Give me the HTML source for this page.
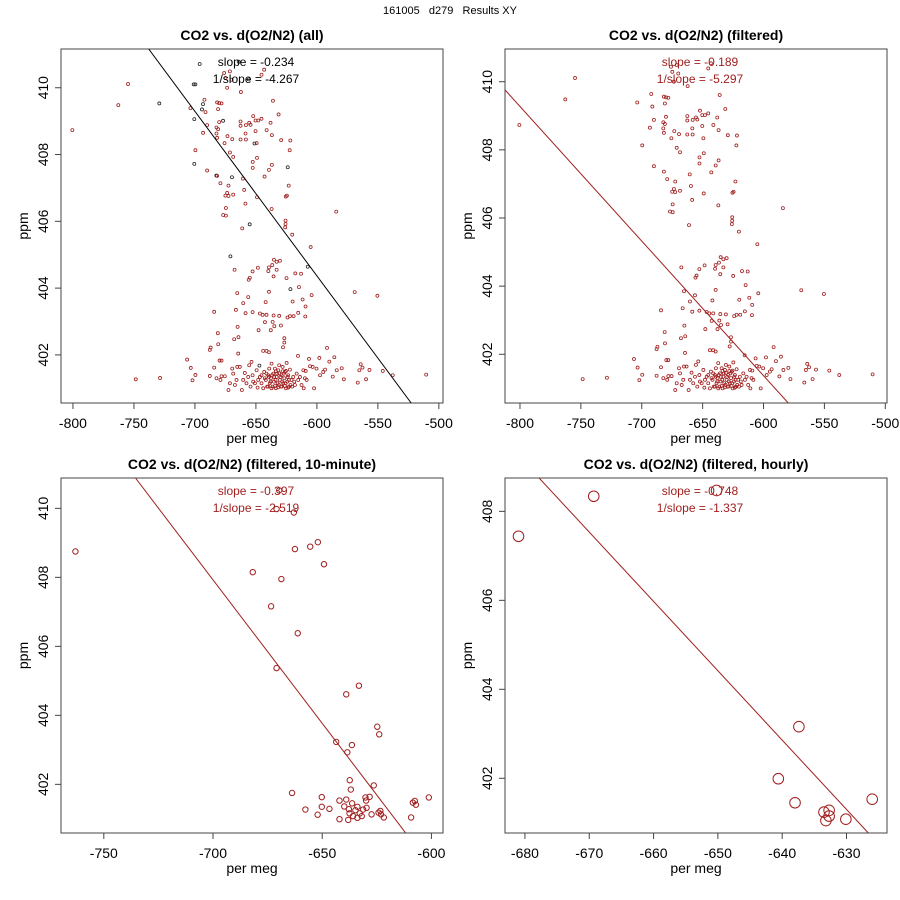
<!DOCTYPE html>
<html><head><meta charset="utf-8"><style>
body{margin:0;background:#fff}
svg{display:block;font-family:"Liberation Sans",sans-serif}
</style></head><body>
<svg id="chart" width="900" height="900" viewBox="0 0 900 900" xmlns="http://www.w3.org/2000/svg">
<rect width="900" height="900" fill="#fff"/>
<text x="450" y="14" font-size="11" text-anchor="middle" style="white-space:pre">161005   d279   Results XY</text>
</svg>
<script>
// ---- data ----
const filtX=[-800.5,-762.8,-754.8,-703.7,-692.2,-691.3,-690.0,-693.3,-699.6,-690.0,-681.8,-680.1,-678.2,-681.0,-680.1,-682.3,-681.0,-682.3,-681.8,-675.7,-673.3,-669.4,-671.3,-668.6,-681.8,-679.1,-672.5,-673.6,-675.0,-668.6,-672.5,-674.6,-676.8,-674.6,-676.0,-674.9,-671.3,-670.0,-673.6,-662.3,-645.4,-643.2,-636.0,-631.4,-662.6,-662.6,-658.2,-655.5,-654.4,-652.2,-650.3,-648.1,-645.4,-650.3,-658.5,-662.6,-658.2,-649.4,-641.2,-636.9,-638.0,-629.3,-621.8,-622.3,-649.1,-652.6,-652.6,-660.6,-639.3,-636.9,-642.9,-659.6,-623.1,-624.6,-625.5,-649.1,-658.6,-637.1,-625.7,-625.7,-626.0,-661.2,-620.2,-605.1,-584.1,
-667.5,-648.4,-652.7,-655.0,-655.9,-635.2,-633.0,-630.3,-636.6,-639.3,-639.8,-633.0,-635.5,-624.9,-617.7,-613.0,-614.7,-604.3,-569.0,-550.4,-665.3,-656.3,-660.4,-666.4,-658.5,-652.7,-646.7,-644.5,-641.3,-639.3,-642.0,-635.5,-630.9,-624.1,-622.1,-619.1,-615.3,-609.5,-611.7,-609.3,-619.9,-684.2,-665.0,-642.6,-636.3,-634.9,-629.5,-637.8,-647.8,-681.2,-667.8,-664.3,-680.9,-687.1,-687.8,-626.7,-626.7,-627.8,-591.7,-644.0,-641.3,-639.3,-664.5,-615.5,-606.5,-598.0,-585.7,-589.8,-706.4,-679.8,-678.2,
-748.5,-728.6,-703.4,-702.0,-699.6,-510.4,-537.8,-546.0,-556.9,-559.7,-566.5,-564.1,-562.6,-565.2,-577.9,-579.6,-583.7,-587.0,-593.3,-597.4,-602.3,-605.6,-609.2,-610.8,-687.8,-684.2,-682.3,-678.2,-679.1,-675.5,-672.5,-671.3,-669.4,-668.6,-665.3,-663.2,-661.5,-660.4,-659.1,-655.5,-653.6,-654.4,-652.7,-652.2,-649.4,-648.6,-646.7,-645.4,-644.0,-643.2,-641.9,-640.8,-639.9,-639.1,-638.6,-637.7,-637.2,-636.3,-635.8,-635.2,-634.4,-633.6,-633.0,-632.2,-631.7,-630.9,-630.3,-629.5,-628.9,-628.1,-627.6,-626.7,-626.2,-625.4,-624.8,-624.3,-623.5,-622.8,-622.1,-620.8,-619.4,-618.0,-616.6,-615.3,-613.9,-612.6,-611.1,-609.8,-608.4,-603.5,-600.3,-594.8,
-639.3,-638.0,-636.7,-635.0,-633.9,-632.6,-631.2,-629.8,-628.5,-627.1,-625.7,-624.0,-622.9,-621.6,-620.2,-618.6,-639.9,-637.2,-634.4,-631.7,-628.9,-626.2,-623.5,-633.6,-630.9,-628.1,-625.4,-641.3,-642.7,-645.4,-648.1,-650.8,-656.3,-657.7,-665.9,-667.2];
const filtY=[408.73,409.48,410.11,409.39,409.64,409.27,408.88,408.65,408.13,407.52,409.56,409.54,409.53,409.36,408.97,408.81,408.76,408.63,408.50,408.34,408.55,408.46,408.06,407.93,407.36,407.14,407.07,406.85,406.77,406.80,406.76,406.40,406.19,406.17,410.44,410.29,410.49,410.24,410.0,409.87,410.39,410.54,409.61,409.20,408.99,408.86,408.88,408.95,408.89,409.15,409.02,409.02,409.07,408.70,408.63,408.45,408.45,408.34,408.73,408.58,408.95,408.43,408.42,408.13,407.90,407.78,407.60,407.28,407.54,407.69,407.34,406.94,407.07,406.77,406.74,406.72,406.53,406.37,406.02,405.92,405.82,405.79,405.60,405.23,406.29,
404.55,404.61,404.50,404.31,404.25,404.85,404.79,404.82,404.69,404.62,404.51,404.55,404.35,404.30,404.44,404.43,404.03,403.79,403.88,403.77,403.85,403.73,403.55,403.35,403.25,403.28,403.24,403.20,403.20,403.89,403.58,403.18,403.17,403.12,403.16,403.16,403.26,403.15,403.66,403.45,403.60,403.29,402.84,402.98,402.99,402.86,402.88,402.74,402.74,402.65,402.47,402.53,402.32,402.22,402.15,402.50,402.37,402.23,402.21,402.12,402.12,402.08,402.04,401.97,401.88,401.91,401.93,401.80,401.86,401.83,401.83,
401.27,401.31,401.61,401.24,401.40,401.41,401.39,401.52,401.55,401.27,401.17,401.72,401.62,401.54,401.27,401.60,401.54,401.35,401.56,401.39,401.00,401.66,401.52,401.00,401.37,401.62,401.30,401.36,401.25,401.36,400.95,401.15,401.59,401.44,401.64,401.64,400.95,401.25,401.46,401.69,401.79,401.05,401.39,401.20,401.54,401.02,401.34,401.15,401.00,401.49,401.25,401.05,401.39,401.59,401.15,401.30,401.74,401.05,401.44,401.20,401.59,401.00,401.34,401.15,401.54,401.69,401.25,401.05,401.39,401.64,401.15,401.30,401.49,401.00,401.76,401.20,401.39,401.05,401.56,401.25,401.34,401.10,401.44,401.25,401.34,401.10,401.54,401.30,401.25,401.64,401.59,401.49,
401.34,401.20,401.39,401.34,401.25,401.44,401.10,401.34,401.20,401.44,401.15,401.34,401.25,401.10,401.05,401.20,401.05,401.00,401.07,401.03,401.05,401.07,401.02,401.51,401.45,401.51,401.52,401.44,401.30,401.39,401.25,401.15,401.34,401.15,401.25,401.10];
const rejX=[-696.1,-701.0,-699.6,-729.2,-694.2,-693.4,-700.5,-676.9,-651.2,-700.5,-669.6,-682.4,-623.9,-655.1,-670.9,-607.5,-621.7,-647.1,-655.9,-664.1];
const rejY=[410.71,410.10,410.10,409.53,409.35,409.51,409.06,409.01,408.33,407.72,407.32,407.37,407.62,405.91,404.95,404.64,403.97,401.68,410.25,410.78];
const tenX=[-763.0,-681.8,-668.7,-673.4,-662.5,-655.5,-652.0,-649.2,-663.0,-670.9,-669.7,-661.2,-670.9,-639.0,-633.2,-643.6,-636.4,-638.5,-624.8,-623.9,-626.4,-663.8,-650.2,-637.4,-636.9,-642.1,-639.0,-657.7,-652.1,-650.2,-646.7,-642.1,-639.9,-637.8,-637.5,-638.1,-636.3,-635.9,-633.9,-633.9,-631.9,-631.3,-630.2,-629.9,-629.7,-628.3,-627.4,-624.2,-623.4,-623.1,-621.8,-609.3,-608.5,-607.6,-607.1,-601.2,-634.8,-632.8];
const tenY=[408.75,408.15,407.95,407.16,408.82,408.89,409.02,408.38,409.88,409.98,410.52,406.38,405.37,404.61,404.86,403.23,403.14,402.93,403.67,403.45,401.97,401.75,401.63,402.12,401.85,401.53,401.56,401.27,401.12,401.35,401.29,400.99,401.36,401.28,401.16,400.97,401.45,401.08,401.35,401.03,401.08,401.27,401.62,401.53,401.32,401.64,401.13,401.18,401.23,401.13,401.04,401.04,401.47,401.52,401.41,401.62,401.25,401.16];
const hourX=[-681.0,-669.3,-650.2,-637.4,-640.6,-638.0,-633.5,-632.7,-632.7,-633.2,-630.1,-626.0];
const hourY=[407.44,408.34,408.47,403.16,401.99,401.45,401.24,401.28,401.15,401.05,401.08,401.53];
const fitAllX=[-737.9,-522.7], fitAllY=[411.16,400.56];
const fitFiltX=[-812.3,-579.7], fitFiltY=[409.76,400.57];
const fitTenX=[-735.5,-611.9], fitTenY=[410.88,400.6];
const fitHourX=[-677.8,-626.6], fitHourY=[408.75,400.77];
const ticksX12=[-800,-750,-700,-650,-600,-550,-500];
const ticksY12=[402,404,406,408,410];
const ticksX3=[-750,-700,-650,-600];
const ticksY3=[402,404,406,408,410];
const ticksX4=[-680,-670,-660,-650,-640,-630];
const ticksY4=[402,404,406,408];
const titles=["CO2 vs. d(O2/N2) (all)","CO2 vs. d(O2/N2) (filtered)","CO2 vs. d(O2/N2) (filtered, 10-minute)","CO2 vs. d(O2/N2) (filtered, hourly)"];
const slopes=["slope = -0.234","slope = -0.189","slope = -0.397","slope = -0.748"];
const invSlopes=["1/slope = -4.267","1/slope = -5.297","1/slope = -2.519","1/slope = -1.337"];

const NS="http://www.w3.org/2000/svg";
const svg=document.getElementById('chart');
const RED="#a11f1f";
function mk(tag,attrs,parent){const e=document.createElementNS(NS,tag);for(const k in attrs)e.setAttribute(k,attrs[k]);(parent||svg).appendChild(e);return e;}

function panel(i,box,xd,yd,xt,yt,series,fx,fy,txtColor){
  const g=mk('g',{});
  
  
  const [L,T,R,B]=box;
  const sx=v=>L+(v-xd[0])/(xd[1]-xd[0])*(R-L);
  const sy=v=>B-(v-yd[0])/(yd[1]-yd[0])*(B-T);
  const cx=(L+R)/2;
  const t=mk('text',{x:cx,y:T-9,'font-size':14,'font-weight':'bold','text-anchor':'middle'},g);
  t.textContent=titles[i];
  
  
  const fr=mk('rect',{x:L,y:T,width:R-L,height:B-T,fill:'none',stroke:'#444','stroke-width':1},g);
  
  
  const xa=mk('g',{},g);
  
  
  mk('line',{x1:sx(xt[0]),x2:sx(xt[xt.length-1]),y1:B,y2:B,stroke:'#444'},xa);
  xt.forEach(v=>{
    mk('line',{x1:sx(v),x2:sx(v),y1:B,y2:B+6,stroke:'#444'},xa);
    const tl=mk('text',{x:sx(v),y:B+25,'font-size':14,'text-anchor':'middle'},xa);
    tl.textContent=v;
    
    
  });
  const xl=mk('text',{x:cx,y:B+40,'font-size':14,'text-anchor':'middle'},g);
  xl.textContent='per meg';
  
  
  const ya=mk('g',{},g);
  
  
  mk('line',{x1:L,x2:L,y1:sy(yt[0]),y2:sy(yt[yt.length-1]),stroke:'#444'},ya);
  yt.forEach(v=>{
    mk('line',{x1:L-6,x2:L,y1:sy(v),y2:sy(v),stroke:'#444'},ya);
    const tl=mk('text',{x:0,y:0,'font-size':14,'text-anchor':'middle',transform:`translate(${L-13},${sy(v)}) rotate(-90)`},ya);
    tl.textContent=v;
    
    
  });
  const yl=mk('text',{x:0,y:0,'font-size':14,'text-anchor':'middle',transform:`translate(${L-33},${(T+B)/2}) rotate(-90)`},g);
  yl.textContent='ppm';
  
  
  const cp=mk('clipPath',{id:'cp'+i},g);
  mk('rect',{x:L,y:T,width:R-L,height:B-T},cp);
  const pts=mk('g',{'clip-path':`url(#cp${i})`},g);
  
  
  series.forEach(s=>{
    s.x.forEach((v,k)=>{
      const c=mk('circle',{cx:sx(v),cy:sy(s.y[k]),r:s.r,fill:'none',stroke:s.c,'stroke-width':s.w},pts);
      
      
    });
  });
  const ln=mk('line',{x1:sx(fx[0]),y1:sy(fy[0]),x2:sx(fx[1]),y2:sy(fy[1]),stroke:txtColor,'stroke-width':1,'clip-path':`url(#cp${i})`},g);
  
  
  const s1=mk('text',{x:cx+4,y:T+17,'font-size':12,'text-anchor':'middle',fill:txtColor},g);
  s1.textContent=slopes[i];
  
  
  const s2=mk('text',{x:cx+4,y:T+34,'font-size':12,'text-anchor':'middle',fill:txtColor},g);
  s2.textContent=invSlopes[i];
  
  
}

panel(0,[61,49,443,403],[-809.8,-496.6],[400.56,411.16],ticksX12,ticksY12,
  [{x:rejX,y:rejY,r:1.5,c:'#222',w:0.8},{x:filtX,y:filtY,r:1.5,c:RED,w:0.8}],fitAllX,fitAllY,'#000');
panel(1,[505,49,887,403],[-812.3,-498.6],[400.57,410.96],ticksX12,ticksY12,
  [{x:filtX,y:filtY,r:1.5,c:RED,w:0.8}],fitFiltX,fitFiltY,RED);
panel(2,[61,478,443,833],[-769.6,-594.7],[400.59,410.88],ticksX3,ticksY3,
  [{x:tenX,y:tenY,r:2.7,c:RED,w:1}],fitTenX,fitTenY,RED);
panel(3,[505,478,887,833],[-683.1,-623.7],[400.77,408.75],ticksX4,ticksY4,
  [{x:hourX,y:hourY,r:5.3,c:RED,w:1}],fitHourX,fitHourY,RED);
</script>
</body></html>
